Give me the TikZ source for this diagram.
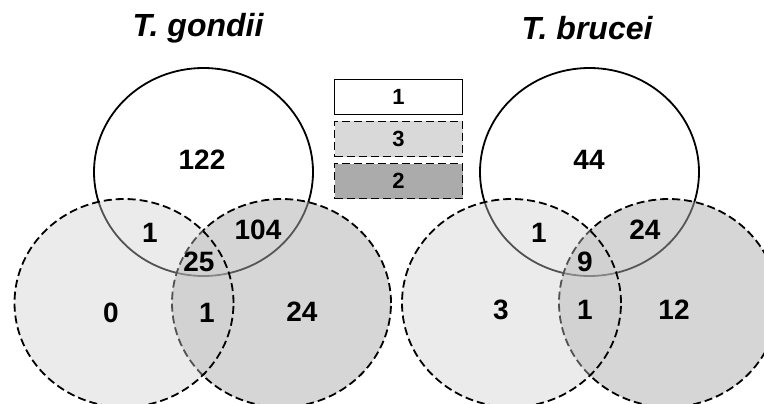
\documentclass[tikz,border=0pt]{standalone}
\usepackage{fontspec}
\setmainfont{Liberation Sans}
\usepackage{xcolor}
\usepackage{tikz}
\usetikzlibrary{shapes.geometric}

\definecolor{setgrey}{HTML}{CDCDCD}
\definecolor{setdark}{HTML}{ADADAD}

\begin{document}
\begin{tikzpicture}[x=1pt, y=-1pt,
    venn/.style={ellipse, draw, line width=1.8pt, minimum width=219pt,
        minimum height=208pt, inner sep=0pt},
    solidset/.style={venn, fill=white},
    lightset/.style={venn, dash pattern=on 8pt off 4pt, fill=setgrey, fill opacity=0.4},
    darkset/.style={venn, dash pattern=on 8pt off 4pt, fill=setdark, fill opacity=0.5},
    key/.style={draw, line width=1.8pt, minimum width=128pt, minimum height=35pt,
        inner sep=0pt, font=\fontsize{22}{22}\selectfont\bfseries},
    num/.style={font=\fontsize{28}{28}\selectfont\bfseries},
    ttl/.style={font=\fontsize{32}{32}\selectfont\bfseries\itshape},
]
\useasboundingbox (0,0) rectangle (764,404);

% T. gondii (left)
\node[solidset] (gTop) at (203.5,172) {};
\node[darkset] (gRight) at (281.5,303) {};
\node[lightset] (gLeft) at (124,303) {};

\node[ttl] (gTitle) at (198,28) {T. gondii};
\node[num] (g122) at (202,160) {122};
\node[num] (g1a) at (150,233) {1};
\node[num] (g104) at (258,230) {104};
\node[num] (g25) at (199,262) {25};
\node[num] (g0) at (111,313) {0};
\node[num] (g1b) at (207,313) {1};
\node[num] (g24) at (302,312) {24};

% T. brucei (right)
\node[solidset] (bTop) at (589.5,172) {};
\node[darkset] (bRight) at (668.5,303) {};
\node[lightset] (bLeft) at (511.5,303) {};

\node[ttl] (bTitle) at (587,28) {T. brucei};
\node[num] (b44) at (589,160) {44};
\node[num] (b1a) at (539,233) {1};
\node[num] (b24) at (645,230) {24};
\node[num] (b9) at (585,262) {9};
\node[num] (b3) at (501,310) {3};
\node[num] (b1b) at (585,310) {1};
\node[num] (b12) at (674,310) {12};

% legend
\node[key, fill=white] (keyOne) at (398.5,97) {1};
\node[key, fill=black!15, dash pattern=on 8pt off 4pt] (keyThree) at (398.5,139) {3};
\node[key, fill=black!33, dash pattern=on 8pt off 4pt] (keyTwo) at (398.5,181) {2};
\end{tikzpicture}
\end{document}
